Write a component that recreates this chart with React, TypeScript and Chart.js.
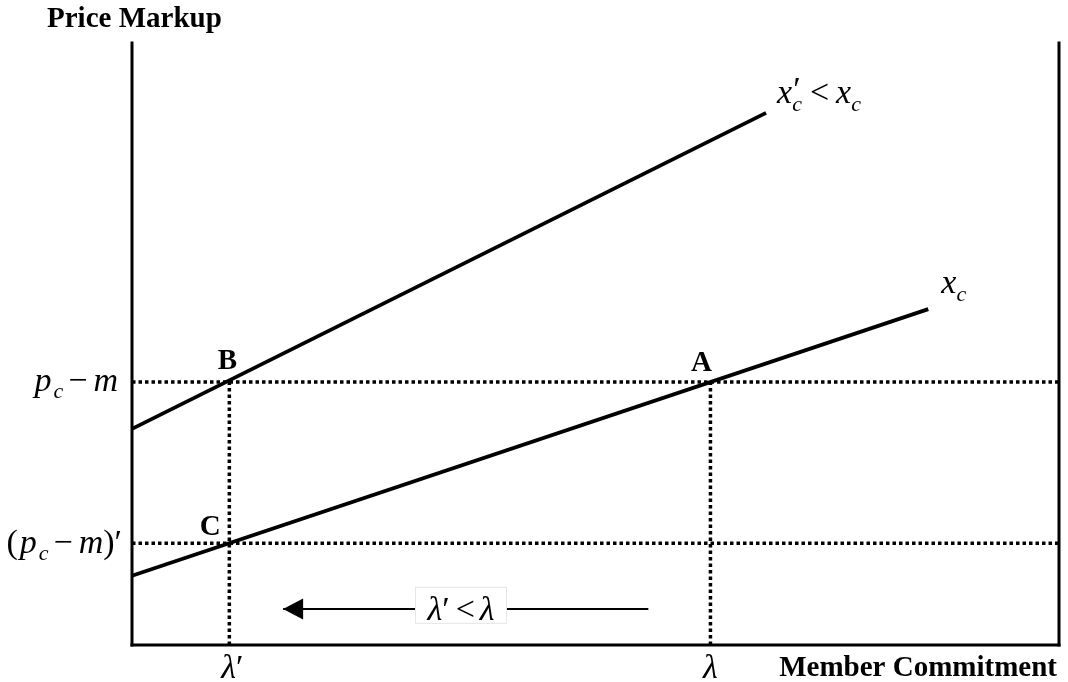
import React, { useEffect, useRef } from "react";
import { Chart, registerables } from "chart.js";

Chart.register(...registerables);

// ---- data (in abstract diagram units, 0..100 on both axes) ----
const X_MAX = 100;
const Y_MAX = 100;
const lambdaValues = [10.5, 62.4]; // λ′, λ
const markupValues = [43.7, 16.9]; // p_c − m, (p_c − m)′
const upperLineX = [0, 68.4]; // x′_c < x_c
const upperLineY = [35.9, 88.4];
const lowerLineX = [0, 85.9]; // x_c
const lowerLineY = [11.5, 55.8];
const arrowX = [55.7, 16.3]; // arrow from right to left
const arrowY = 6.0;
const pointNames = ["B", "A", "C"];

const SERIF = '"Liberation Serif", "Times New Roman", serif';
const I34 = `italic 34px ${SERIF}`;
const I22 = `italic 22px ${SERIF}`;
const R34 = `34px ${SERIF}`;
const B29 = `bold 29px ${SERIF}`;

type Seg = { t: string; f: string; dy?: number; dx?: number; pl?: number; noAdv?: boolean };

function drawRich(
  ctx: CanvasRenderingContext2D,
  segs: Seg[],
  x: number,
  y: number,
  align: "left" | "right" | "center"
) {
  let total = 0;
  for (const s of segs) {
    ctx.font = s.f;
    if (!s.noAdv) total += (s.pl || 0) + ctx.measureText(s.t).width + (s.dx || 0);
  }
  let cx = align === "left" ? x : align === "right" ? x - total : x - total / 2;
  ctx.textAlign = "left";
  ctx.textBaseline = "alphabetic";
  for (const s of segs) {
    ctx.font = s.f;
    if (s.noAdv) {
      ctx.fillText(s.t, cx + (s.dx || 0), y + (s.dy || 0));
      continue;
    }
    cx += s.pl || 0;
    ctx.fillText(s.t, cx, y + (s.dy || 0));
    cx += ctx.measureText(s.t).width + (s.dx || 0);
  }
}

const annotationPlugin = {
  id: "annotations",
  afterDatasetsDraw(chart: any) {
    const ctx: CanvasRenderingContext2D = chart.ctx;
    const xs = chart.scales.x;
    const ys = chart.scales.y;
    const px = (v: number) => xs.getPixelForValue(v);
    const py = (v: number) => ys.getPixelForValue(v);
    ctx.save();
    ctx.fillStyle = "#000";

    // arrow head
    const tipX = px(arrowX[1]);
    const ay = py(arrowY);
    ctx.beginPath();
    ctx.moveTo(tipX, ay);
    ctx.lineTo(tipX + 20, ay - 10.5);
    ctx.lineTo(tipX + 20, ay + 10.5);
    ctx.closePath();
    ctx.fill();

    // label box on arrow
    const midX = 461;
    ctx.fillStyle = "#fff";
    ctx.fillRect(415, ay - 22, 92, 37);
    ctx.strokeStyle = "#e6e6e6";
    ctx.lineWidth = 1;
    ctx.strokeRect(415.5, ay - 21.5, 91, 36);
    ctx.fillStyle = "#000";
    drawRich(
      ctx,
      [
        { t: "λ", f: I34 },
        { t: "′", f: R34, dx: 2 },
        { t: "<", f: R34, pl: 4, dx: 5 },
        { t: "λ", f: I34 },
      ],
      midX,
      ay + 11,
      "center"
    );

    // axis titles
    ctx.font = B29;
    ctx.textAlign = "left";
    ctx.textBaseline = "alphabetic";
    ctx.fillText("Price Markup", 47, 27);
    ctx.textAlign = "right";
    ctx.fillText("Member Commitment", 1057, 676);

    // y labels
    drawRich(
      ctx,
      [
        { t: "p", f: I34 },
        { t: "c", f: I22, dy: 7, dx: 2, pl: 2 },
        { t: "−", f: R34, pl: 3, dx: 6 },
        { t: "m", f: I34 },
      ],
      118,
      py(markupValues[0]) + 9,
      "right"
    );
    drawRich(
      ctx,
      [
        { t: "(", f: R34, dx: 2 },
        { t: "p", f: I34 },
        { t: "c", f: I22, dy: 7, dx: 2, pl: 2 },
        { t: "−", f: R34, pl: 3, dx: 6 },
        { t: "m", f: I34 },
        { t: ")", f: R34 },
        { t: "′", f: R34 },
      ],
      122,
      py(markupValues[1]) + 10,
      "right"
    );

    // x labels
    drawRich(
      ctx,
      [
        { t: "λ", f: I34 },
        { t: "′", f: R34 },
      ],
      px(lambdaValues[0]) + 3,
      678,
      "center"
    );
    drawRich(ctx, [{ t: "λ", f: I34 }], px(lambdaValues[1]), 678, "center");

    // curve labels
    drawRich(
      ctx,
      [
        { t: "x", f: I34 },
        { t: "′", f: R34, dx: 1, dy: -3, noAdv: true },
        { t: "c", f: I22, dy: 8, dx: 1 },
        { t: "<", f: R34, pl: 7, dx: 7 },
        { t: "x", f: I34 },
        { t: "c", f: I22, dy: 8, dx: 1 },
      ],
      px(upperLineX[1]) + 11,
      py(upperLineY[1]) - 10,
      "left"
    );
    drawRich(
      ctx,
      [
        { t: "x", f: I34 },
        { t: "c", f: I22, dy: 8, dx: 1 },
      ],
      px(lowerLineX[1]) + 13,
      py(lowerLineY[1]) - 16,
      "left"
    );

    // point labels
    ctx.font = B29;
    ctx.textAlign = "center";
    ctx.textBaseline = "middle";
    const anchors = [
      [lambdaValues[0], markupValues[0], -2, -21],
      [lambdaValues[1], markupValues[0], -9, -19],
      [lambdaValues[0], markupValues[1], -19, -17],
    ];
    anchors.forEach((a, i) => {
      ctx.fillText(pointNames[i], px(a[0]) + a[2], py(a[1]) + a[3] + 1);
    });

    ctx.restore();
  },
};

function seg(x: number[], y: number[]) {
  return x.map((v, i) => ({ x: v, y: y[i] }));
}

export default function App() {
  const ref = useRef<HTMLCanvasElement>(null);
  useEffect(() => {
    if (!ref.current) return;
    const solid = (data: any[], w: number, cap = "butt") => ({
      data,
      showLine: true,
      borderColor: "#000",
      backgroundColor: "#000",
      borderWidth: w,
      pointRadius: 0,
      borderCapStyle: cap,
      clip: false,
      tension: 0,
    });
    const dotted = (data: any[]) => ({
      ...solid(data, 3.5),
      borderDash: [3.5, 3],
    });
    const chart = new Chart(ref.current, {
      type: "scatter",
      data: {
        datasets: [
          solid(seg(upperLineX, upperLineY), 3.8),
          solid(seg(lowerLineX, lowerLineY), 3.8),
          solid(seg([0, 0], [0, Y_MAX]), 3, "square"),
          solid(seg([0, X_MAX], [0, 0]), 3, "square"),
          solid(seg([X_MAX, X_MAX], [0, Y_MAX]), 3, "square"),
          solid(seg(arrowX, [arrowY, arrowY]), 2),
          dotted(seg([0, X_MAX], [markupValues[0], markupValues[0]])),
          dotted(seg([0, X_MAX], [markupValues[1], markupValues[1]])),
          dotted(seg([lambdaValues[0], lambdaValues[0]], [0, markupValues[0]])),
          dotted(seg([lambdaValues[1], lambdaValues[1]], [0, markupValues[0]])),
        ] as any,
      },
      options: {
        animation: false,
        responsive: false,
        layout: { padding: { left: 132, top: 43, right: 9, bottom: 37 } },
        scales: {
          x: { type: "linear", min: 0, max: X_MAX, display: false },
          y: { type: "linear", min: 0, max: Y_MAX, display: false },
        },
        plugins: { legend: { display: false }, tooltip: { enabled: false } },
        events: [],
      },
      plugins: [annotationPlugin],
    });
    return () => chart.destroy();
  }, []);
  return (
    <div style={{ position: "absolute", left: 0, top: 0, width: 1068, height: 682, background: "#fff" }}>
      <canvas ref={ref} width={1068} height={682} style={{ display: "block" }} />
    </div>
  );
}
